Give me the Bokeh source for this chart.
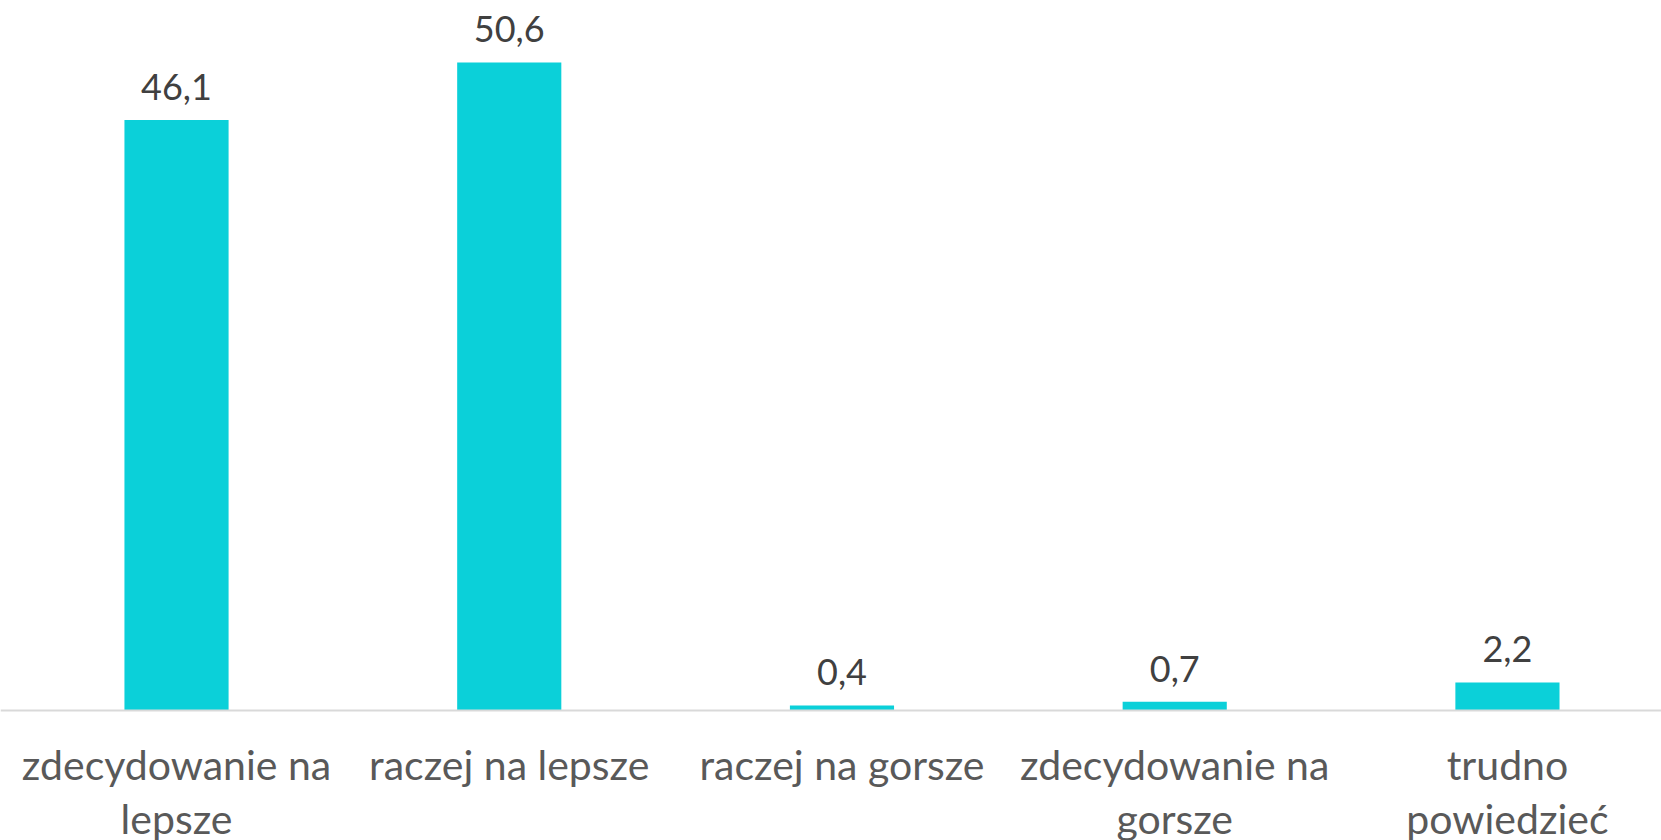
from bokeh.plotting import figure
from bokeh.models import ColumnDataSource, Range1d, Span
from bokeh.core.properties import value
from bokeh.embed import file_html
from bokeh.resources import INLINE

categories = ["zdecydowanie na\nlepsze", "raczej na lepsze", "raczej na gorsze",
              "zdecydowanie na\ngorsze", "trudno\npowiedzieć"]
values = [46.1, 50.6, 0.4, 0.7, 2.2]

xs = list(range(len(categories)))
labels = [f"{v:.1f}".replace(".", ",") for v in values]
src = ColumnDataSource(dict(x=xs, top=values, label=labels,
                            cat=categories, zero=[0] * len(xs)))

FONT = "Lato"

p = figure(width=1661, height=840, output_backend="svg", toolbar_location=None,
           x_range=Range1d(-0.529, 4.463), y_range=Range1d(-10.14, 55.43),
           min_border_left=0, min_border_right=0, min_border_top=0, min_border_bottom=0)
p.axis.visible = False
p.grid.visible = False
p.outline_line_color = None

p.vbar(x="x", top="top", width=0.313, bottom=0, source=src,
       fill_color="#0bd0d9", line_color=None)
p.add_layout(Span(location=0, dimension="width", line_color="#d9d9d9", line_width=2))

p.text(x="x", y="top", text="label", source=src, text_align="center",
       text_baseline="bottom", y_offset=-20, text_font=value(FONT),
       text_font_size="36px", text_color="#404040")
p.text(x="x", y="zero", text="cat", source=src, text_align="center",
       text_baseline="top", y_offset=29, text_font=value(FONT),
       text_font_size="41px", text_color="#595959", text_line_height=1.12)

open("out.html", "w").write(file_html(p, INLINE))
